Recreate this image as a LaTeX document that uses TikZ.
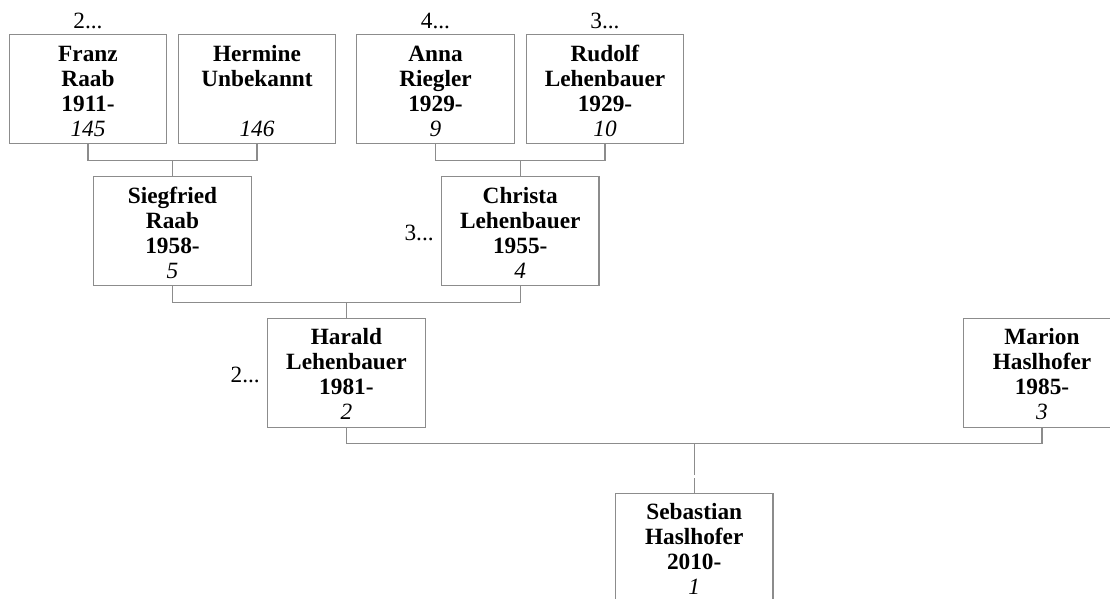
\documentclass[tikz,border=0pt]{standalone}
\usepackage{fontspec}
\setmainfont{Liberation Serif}
\definecolor{linegray}{RGB}{140,140,140}
\newcommand\toppad{\rule{0pt}{19.5pt}}
\tikzset{
  person/.style={draw=linegray, line width=1.3pt, minimum width=157.5pt, minimum height=109pt,
    align=center, inner sep=0pt, anchor=north, font=\fontsize{23.3}{25}\selectfont},
  conn/.style={draw=linegray, line width=1.3pt},
  lbl/.style={inner sep=0pt, font=\fontsize{23.3}{25}\selectfont},
}
\begin{document}
\begin{tikzpicture}[x=1pt,y=1pt]
\useasboundingbox (0,0) rectangle (1110,-599);
\clip (0,0) rectangle (1110,-599);
% generation 4
\node[person] (franz) at (88,-34) {\toppad\textbf{Franz}\\\textbf{Raab}\\\textbf{1911-}\\\textit{145}};
\node[person] (hermine) at (257,-34) {\toppad\textbf{Hermine}\\\textbf{Unbekannt}\\\mbox{}\\\textit{146}};
\node[person] (anna) at (435.5,-34) {\toppad\textbf{Anna}\\\textbf{Riegler}\\\textbf{1929-}\\\textit{9}};
\node[person] (rudolf) at (605,-34) {\toppad\textbf{Rudolf}\\\textbf{Lehenbauer}\\\textbf{1929-}\\\textit{10}};
% generation 3
\node[person] (siegfried) at (172.5,-176) {\toppad\textbf{Siegfried}\\\textbf{Raab}\\\textbf{1958-}\\\textit{5}};
\node[person] (christa) at (520.25,-176) {\toppad\textbf{Christa}\\\textbf{Lehenbauer}\\\textbf{1955-}\\\textit{4}};
% generation 2
\node[person] (harald) at (346.4,-317.5) {\toppad\textbf{Harald}\\\textbf{Lehenbauer}\\\textbf{1981-}\\\textit{2}};
\node[person] (marion) at (1042,-317.5) {\toppad\textbf{Marion}\\\textbf{Haslhofer}\\\textbf{1985-}\\\textit{3}};
% generation 1
\node[person] (sebastian) at (694.2,-492.5) {\toppad\textbf{Sebastian}\\\textbf{Haslhofer}\\\textbf{2010-}\\\textit{1}};
% labels
\node[lbl, anchor=base] (lfranz) at ([yshift=5pt]franz.north) {2...};
\node[lbl, anchor=base] (lanna) at ([yshift=5pt]anna.north) {4...};
\node[lbl, anchor=base] (lrudolf) at ([yshift=5pt]rudolf.north) {3...};
\node[lbl, anchor=east] (lchrista) at ([xshift=-7pt,yshift=-2pt]christa.west) {3...};
\node[lbl, anchor=east] (lharald) at ([xshift=-7pt,yshift=-2pt]harald.west) {2...};
% connectors
\draw[conn] (franz.south) -- ++(0,-16) -| (hermine.south);
\draw[conn] (siegfried.north) -- ++(0,16);
\draw[conn] (anna.south) -- ++(0,-16) -| (rudolf.south);
\draw[conn] (christa.north) -- ++(0,16);
\draw[conn] (siegfried.south) -- ++(0,-16) -| (christa.south);
\draw[conn] (harald.north) -- ++(0,16);
\draw[conn] (harald.south) -- ++(0,-16) -| (marion.south);
\draw[conn] (sebastian.north) -- ([yshift=15pt]sebastian.north);
\draw[conn] ([yshift=17.5pt]sebastian.north) -- ([yshift=50pt]sebastian.north);
\end{tikzpicture}
\end{document}
